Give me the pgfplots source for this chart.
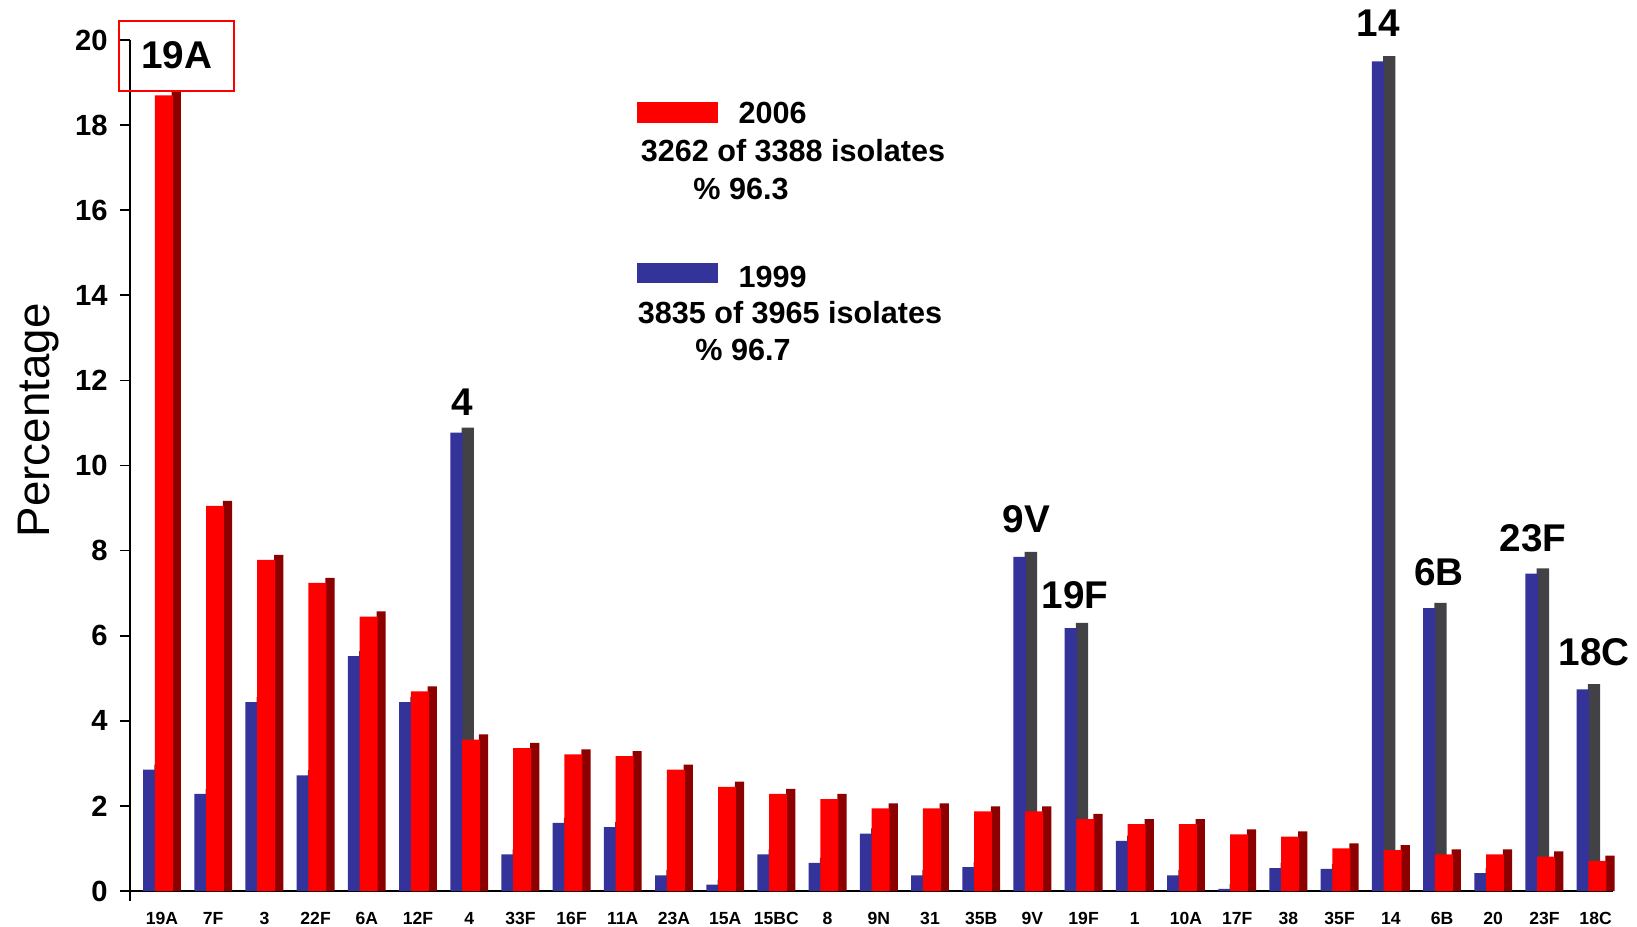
\documentclass[border=0pt]{standalone}
\usepackage{pgfplots}
\pgfplotsset{compat=1.18}
\usepackage{pgfplotstable}
\usepackage{fontspec}
\setmainfont{Liberation Sans}
\definecolor{bfront}{RGB}{51,51,153}
\definecolor{bside}{RGB}{66,66,70}
\definecolor{rfront}{RGB}{255,0,0}
\definecolor{rside}{RGB}{140,0,0}

\pgfplotstableread{
x b r
0 2.85 18.70
1 2.28 9.05
2 4.44 7.78
3 2.72 7.24
4 5.52 6.45
5 4.44 4.69
6 10.77 3.56
7 0.86 3.36
8 1.60 3.21
9 1.50 3.17
10 0.37 2.85
11 0.15 2.45
12 0.86 2.28
13 0.66 2.16
14 1.35 1.94
15 0.37 1.94
16 0.56 1.87
17 7.85 1.87
18 6.18 1.69
19 1.18 1.57
20 0.37 1.57
21 0.05 1.33
22 0.54 1.28
23 0.52 1.00
24 19.50 0.96
25 6.65 0.86
26 0.42 0.86
27 7.46 0.81
28 4.74 0.71
}\data

\begin{document}
\begin{tikzpicture}
\useasboundingbox (0,0) rectangle (16.37,9.26);
\begin{axis}[
  at={(1.30cm,0.35cm)}, anchor=south west,
  scale only axis, width=14.83cm, height=8.51cm,
  xmin=-0.625, xmax=28.34, ymin=0, ymax=20,
  axis lines=left, axis line style={-, black, line width=0.6pt},
  clip=false,
  xtick={0,...,28},
  xticklabels={19A,7F,3,22F,6A,12F,4,33F,16F,11A,23A,15A,15BC,8,9N,31,35B,9V,19F,1,10A,17F,38,35F,14,6B,20,23F,18C},
  xtick style={draw=none},
  ytick={0,2,...,20},
  tick align=outside, major tick length=0.1cm,
  ytick style={black, line width=0.5pt},
  /pgf/number format/assume math mode=true,
  yticklabel style={font=\bfseries\fontsize{8.3}{10}\selectfont},
  xticklabel style={font=\bfseries\fontsize{5}{6}\selectfont, yshift=0.01cm},
  ylabel={Percentage},
  ylabel style={at={(axis description cs:-0.0614,0.553)}, anchor=center, font=\fontsize{13}{15}\selectfont},
]
\addplot[ybar, bar width=0.24, bar shift=-0.03, fill=bside, draw=none] table[x=x, y expr=\thisrow{b}+0.12] \data;
\addplot[ybar, bar width=0.24, bar shift=-0.25, fill=bfront, draw=none] table[x=x, y=b] \data;
\addplot[ybar, bar width=0.18, bar shift=0.28, fill=rside, draw=none] table[x=x, y expr=\thisrow{r}+0.12] \data;
\addplot[ybar, bar width=0.35, bar shift=0.035, fill=rfront, draw=none] table[x=x, y=r] \data;

\draw[black, line width=0.6pt] (axis cs:-0.625,0) -- ++(0pt,-0.1cm);
\draw[red, line width=0.5pt] (axis cs:-0.84,18.8) rectangle (axis cs:1.41,20.45);
\begin{scope}[every node/.style={font=\bfseries\fontsize{11}{13}\selectfont, inner sep=0pt}]
\node at (axis cs:0.29,19.65) {19A};
\node at (axis cs:5.86,11.49) {4};
\node at (axis cs:16.88,8.74) {9V};
\node at (axis cs:17.83,6.96) {19F};
\node at (axis cs:23.75,20.4) {14};
\node at (axis cs:24.94,7.5) {6B};
\node at (axis cs:26.78,8.3) {23F};
\node at (axis cs:27.97,5.62) {18C};
\end{scope}
\end{axis}
\begin{scope}[every node/.style={font=\bfseries\fontsize{8.7}{10}\selectfont, inner sep=0pt}]
\fill[rfront] (6.37,8.03) rectangle (7.18,8.24);
\node[anchor=west] at (7.38,8.13) {2006};
\node at (7.93,7.75) {3262 of 3388 isolates};
\node at (7.41,7.37) {\% 96.3};
\fill[bfront] (6.37,6.43) rectangle (7.18,6.63);
\node[anchor=west] at (7.38,6.49) {1999};
\node at (7.90,6.13) {3835 of 3965 isolates};
\node at (7.43,5.76) {\% 96.7};
\end{scope}
\end{tikzpicture}
\end{document}
